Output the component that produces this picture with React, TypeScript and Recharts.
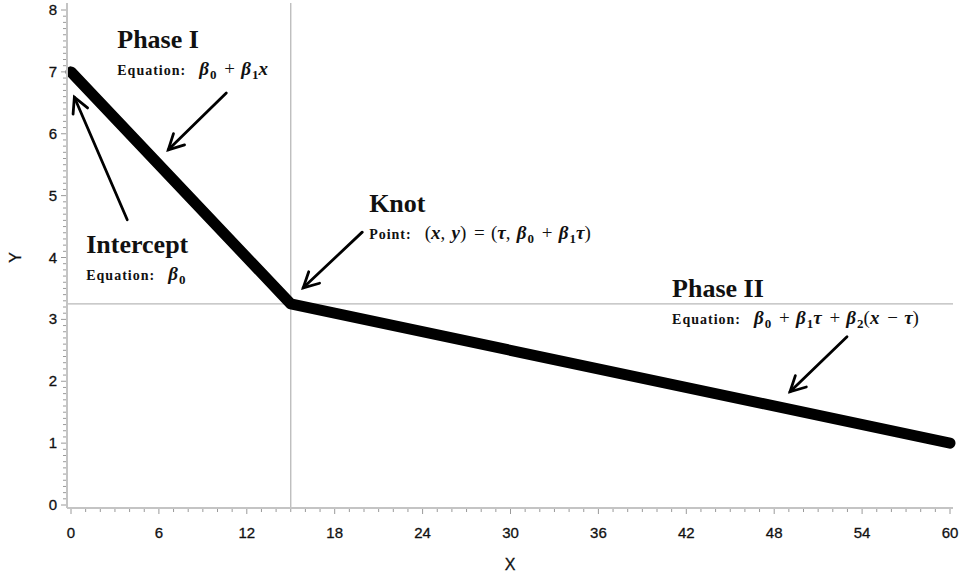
import React from 'react'
import { LineChart, Line, XAxis, YAxis, ReferenceLine, ReferenceDot, Label } from 'recharts'

// piecewise linear model: intercept -> knot -> end
const knotX = 15
const knotY = 3.25
const xValues = [0, knotX, 60]
const yValues = [7, knotY, 1]

const xMajorTicks = [0, 6, 12, 18, 24, 30, 36, 42, 48, 54, 60]
const yMajorTicks = [0, 1, 2, 3, 4, 5, 6, 7, 8]
const xMinorStep = 1
const yMinorStep = 0.1

// annotations (data coords of the title's left baseline)
const noteTitles = ['Phase I', 'Intercept', 'Knot', 'Phase II']
const noteKinds = ['Equation:', 'Equation:', 'Point:', 'Equation:']
const noteMath = ['β_0 + β_1x', 'β_0', '(x, y) = (τ, β_0 + β_1τ)', 'β_0 + β_1τ + β_2(x − τ)']
const noteX = [3.16, 1.04, 20.35, 41.03]
const noteY = [7.39, 4.07, 4.74, 3.36]

// arrows: tail -> tip
const arrowFromX = [10.6, 3.84, 19.88, 52.97]
const arrowFromY = [6.66, 4.61, 4.41, 2.72]
const arrowToX = [6.64, 0.23, 15.85, 49.08]
const arrowToY = [5.74, 6.59, 3.51, 1.83]

const data = xValues.map((x, i) => ({ x, y: yValues[i] }))
const xTicks = Array.from({ length: 60 / xMinorStep + 1 }, (_, i) => i * xMinorStep)
const yTicks = Array.from({ length: Math.round(8 / yMinorStep) + 1 }, (_, i) => Math.round(i * yMinorStep * 10) / 10)

const frameColor = '#c4c4c4'
const tickColor = '#9a9a9a'
const sans = '"Liberation Sans", Arial, sans-serif'
const serif = '"Liberation Serif", "Times New Roman", serif'

const XTick = (props: any) => {
  const { x, y, payload } = props
  const v = payload.value
  const major = xMajorTicks.includes(v)
  return (
    <g>
      <line x1={x} x2={x} y1={y + 1} y2={y + (major ? 6 : 4)} stroke={tickColor} />
      {major && (
        <text x={x} y={y + 30} textAnchor="middle" fontSize={15} fontFamily={sans} fill="#111" stroke="#111" strokeWidth={0.3}>
          {v}
        </text>
      )}
    </g>
  )
}

const YTick = (props: any) => {
  const { x, y, payload } = props
  const v = payload.value
  const major = yMajorTicks.some(t => Math.abs(t - v) < 1e-6)
  return (
    <g>
      <line x1={x - 1} x2={x - (major ? 6 : 4)} y1={y} y2={y} stroke={tickColor} />
      {major && (
        <text x={x - 10} y={y + 5} textAnchor="end" fontSize={15} fontFamily={sans} fill="#111" stroke="#111" strokeWidth={0.3}>
          {v}
        </text>
      )}
    </g>
  )
}

// tiny math renderer: "_d" makes a subscript, letters are bold italic
function mathSpans(src: string) {
  const out: React.ReactNode[] = []
  let shifted = false
  for (let i = 0; i < src.length; i++) {
    let ch = src[i]
    let sub = false
    if (ch === '_') {
      sub = true
      ch = src[++i]
    }
    const letter = /[a-zα-ω]/.test(ch)
    let dy = 0
    if (sub && !shifted) { dy = 4; shifted = true }
    else if (!sub && shifted) { dy = -4; shifted = false }
    const wide = /[+=− ]/.test(ch)
    out.push(
      <tspan
        key={i}
        dy={dy || undefined}
        dx={wide ? 1.5 : sub ? 1 : undefined}
        fontSize={sub ? 13 : 19}
        fontStyle={letter ? 'italic' : 'normal'}
        fontWeight={letter || sub ? 'bold' : 'normal'}
      >
        {ch === ' ' ? '\u00a0' : ch}
      </tspan>
    )
  }
  return out
}

const Note = (props: any) => {
  const { cx, cy, idx } = props
  return (
    <g>
      <text x={cx} y={cy} fontSize={26} fontWeight="bold" fontFamily={serif} fill="#111">
        {noteTitles[idx]}
      </text>
      <text x={cx} y={cy + 27} fontFamily={serif} fill="#111">
        <tspan fontSize={14} fontWeight="bold" letterSpacing={1}>{noteKinds[idx]}</tspan>
        <tspan dx={9}>{'\u00a0'}</tspan>
        {mathSpans(noteMath[idx])}
      </text>
    </g>
  )
}

const Arrow = (props: any) => {
  const { x1, y1, x2, y2 } = props
  const ang = Math.atan2(y2 - y1, x2 - x1)
  const len = 17
  const spread = Math.PI / 6.5
  const ax = x2 - len * Math.cos(ang - spread)
  const ay = y2 - len * Math.sin(ang - spread)
  const bx = x2 - len * Math.cos(ang + spread)
  const by = y2 - len * Math.sin(ang + spread)
  return (
    <g stroke="#000" strokeWidth={2.8} fill="none" strokeLinecap="round">
      <line x1={x1} y1={y1} x2={x2} y2={y2} />
      <polyline points={`${ax},${ay} ${x2},${y2} ${bx},${by}`} strokeLinejoin="miter" />
    </g>
  )
}

export default function App() {
  return (
    <div style={{ position: 'absolute', left: 0, top: 0, background: '#fff' }}>
      <LineChart width={965} height={580} data={data} margin={{ top: 3, right: 12, left: 0, bottom: 0 }}>
        <XAxis
          dataKey="x"
          type="number"
          domain={[0, 60]}
          ticks={xTicks}
          interval={0}
          tickSize={0}
          tickMargin={0}
          tickLine={false}
          tick={<XTick />}
          height={72}
          padding={{ left: 4, right: 3 }}
          axisLine={{ stroke: frameColor, strokeWidth: 2 }}
        >
          <Label
            content={(p: any) => {
              const vb = p.viewBox
              return (
                <text x={vb.x + vb.width / 2} y={vb.y + 62} textAnchor="middle" fontSize={16} fontFamily={sans} fill="#111" stroke="#111" strokeWidth={0.3}>
                  X
                </text>
              )
            }}
          />
        </XAxis>
        <YAxis
          type="number"
          domain={[0, 8]}
          ticks={yTicks}
          interval={0}
          tickSize={0}
          tickMargin={0}
          tickLine={false}
          tick={<YTick />}
          width={67}
          padding={{ top: 7, bottom: 3 }}
          axisLine={{ stroke: frameColor, strokeWidth: 2 }}
        >
          <Label
            content={(p: any) => {
              const vb = p.viewBox
              const cx = 16
              const cy = vb.y + vb.height / 2 + 2
              return (
                <text x={cx} y={cy} transform={`rotate(-90 ${cx} ${cy})`} textAnchor="middle" dy={5} fontSize={16} fontFamily={sans} fill="#111" stroke="#111" strokeWidth={0.3}>
                  Y
                </text>
              )
            }}
          />
        </YAxis>
        <XAxis xAxisId="top" orientation="top" type="number" domain={[0, 60]} height={0} tick={false} tickLine={false} axisLine={{ stroke: frameColor, strokeWidth: 2 }} />
        <YAxis yAxisId="right" orientation="right" type="number" domain={[0, 8]} width={0} tick={false} tickLine={false} axisLine={{ stroke: frameColor, strokeWidth: 2 }} />

        <ReferenceLine x={knotX} stroke="#b8b8b8" strokeWidth={1.3} />
        <ReferenceLine y={knotY} stroke="#b8b8b8" strokeWidth={1.3} />

        <Line
          dataKey="y"
          type="linear"
          stroke="#000"
          strokeWidth={11}
          strokeLinecap="round"
          strokeLinejoin="round"
          dot={false}
          activeDot={false}
          isAnimationActive={false}
        />

        {arrowFromX.map((fx, i) => (
          <ReferenceLine
            key={'a' + i}
            segment={[{ x: fx, y: arrowFromY[i] }, { x: arrowToX[i], y: arrowToY[i] }]}
            shape={(p: any) => <Arrow {...p} />}
          />
        ))}

        {noteTitles.map((t, i) => (
          <ReferenceDot key={t} x={noteX[i]} y={noteY[i]} r={0} shape={(p: any) => <Note {...p} idx={i} />} />
        ))}
      </LineChart>
    </div>
  )
}
